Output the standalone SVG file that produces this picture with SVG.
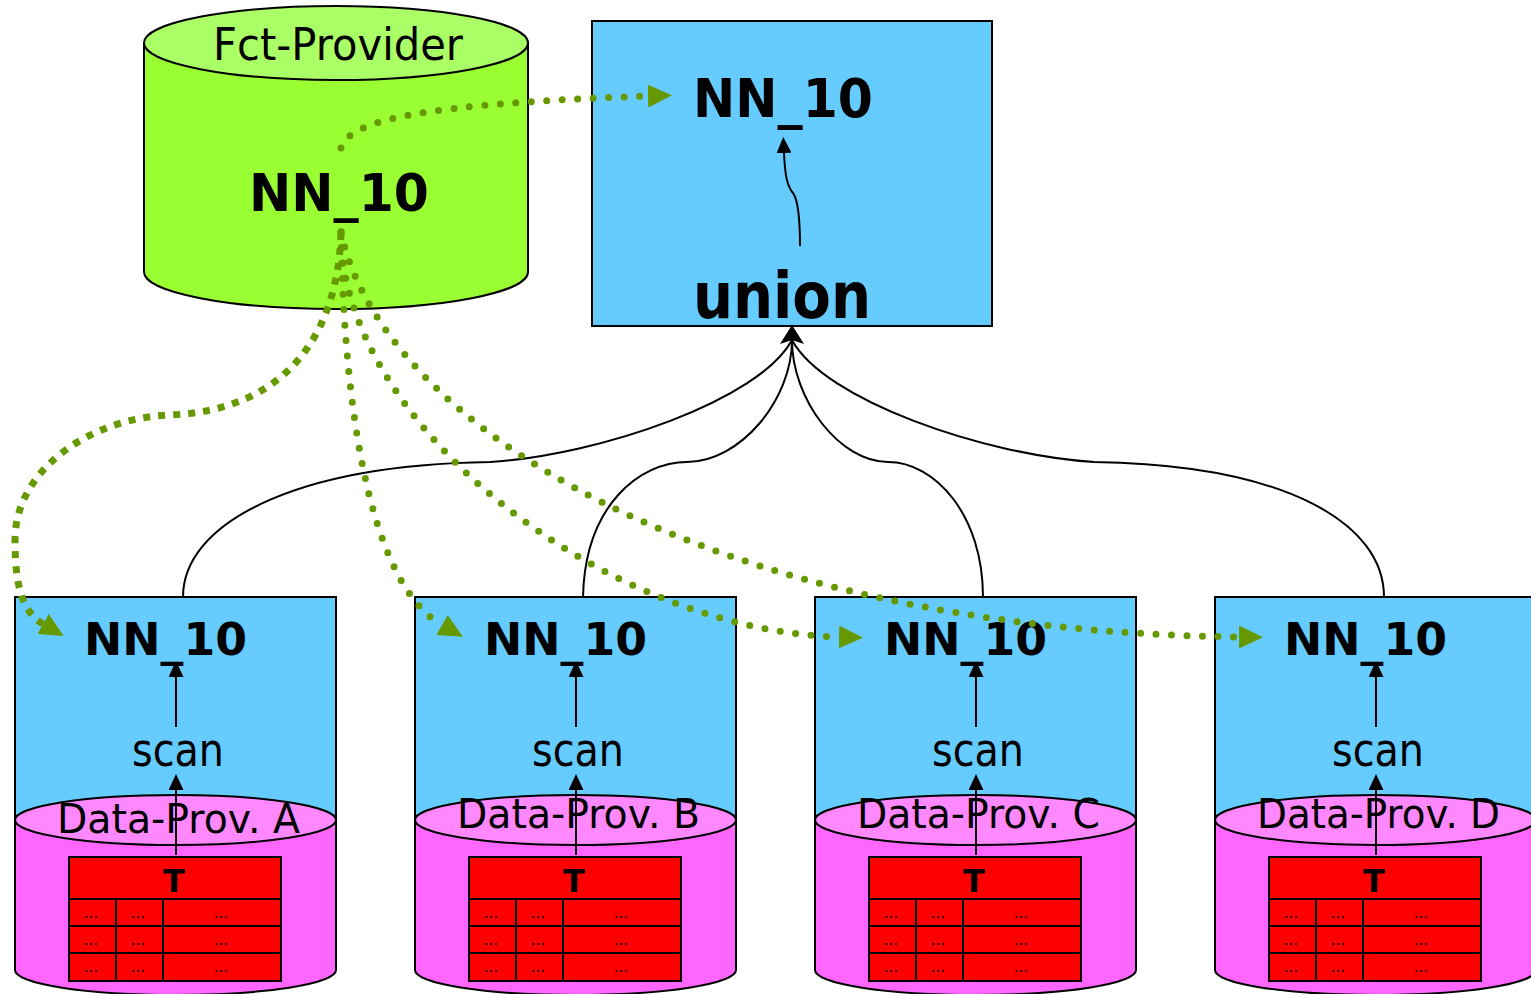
<svg xmlns="http://www.w3.org/2000/svg" width="1531" height="994" viewBox="0 0 1531 994">
<style>
.blue{fill:#66CCFF;stroke:#000;stroke-width:2}
.cyl{fill:#FF66FF;stroke:#000;stroke-width:2}
.cyltop{fill:#FF88FF;stroke:#000;stroke-width:2}
.tbl{fill:#FF0000;stroke:#000;stroke-width:2}
.ln{fill:none;stroke:#000;stroke-width:2}
.b{font-family:"DejaVu Sans","Liberation Sans",sans-serif;font-weight:bold;fill:#000}
.n{font-family:"DejaVu Sans","Liberation Sans",sans-serif;fill:#000}
.dots{font-family:"DejaVu Sans","Liberation Sans",sans-serif;font-size:15px;fill:#000;text-anchor:middle}
.gdot{fill:none;stroke:#669900;stroke-width:7;stroke-linecap:round;stroke-dasharray:0 15.5}
.gsq{fill:none;stroke:#669900;stroke-width:7;stroke-dasharray:7 8}
.blk{fill:none;stroke:#000;stroke-width:2}
</style>
<defs>
<marker id="ga" markerUnits="userSpaceOnUse" markerWidth="24" markerHeight="23" viewBox="0 0 24 23" refX="0" refY="11.5" orient="auto"><path d="M0,0 L24,11.5 L0,23 Z" fill="#669900"/></marker>
<marker id="ba" markerUnits="userSpaceOnUse" markerWidth="16" markerHeight="15" viewBox="0 0 16 15" refX="0" refY="7.5" orient="auto"><path d="M0,0 L16,7.5 L0,15 Z" fill="#000"/></marker>
<g id="dataprov">
<rect class="blue" x="0" y="597" width="321" height="260"/>
<path class="cyl" d="M0,820 L0,970 A160.5,25 0 0 0 321,970 L321,820 Z"/>
<ellipse class="cyltop" cx="160.5" cy="820" rx="160.5" ry="25"/>
<rect class="tbl" x="54" y="857" width="212" height="124"/>
<path class="ln" d="M54,899 H266 M54,926 H266 M54,953 H266 M101,899 V981 M148,899 V981"/>
<text class="b" x="159" y="892" font-size="32" text-anchor="middle">T</text>
<text class="dots" x="76" y="918">...</text><text class="dots" x="123" y="918">...</text><text class="dots" x="206" y="918">...</text>
<text class="dots" x="76" y="945">...</text><text class="dots" x="123" y="945">...</text><text class="dots" x="206" y="945">...</text>
<text class="dots" x="76" y="972">...</text><text class="dots" x="123" y="972">...</text><text class="dots" x="206" y="972">...</text>
<text class="b" x="69" y="655" font-size="45" textLength="163" lengthAdjust="spacingAndGlyphs">NN_10</text>
<text class="n" x="117" y="766" font-size="46" textLength="92" lengthAdjust="spacingAndGlyphs">scan</text>
</g>
</defs>

<g id="fct-provider">
<path d="M144,43 L144,272 A192,37 0 0 0 528,272 L528,43 Z" fill="#99FF33" stroke="#000" stroke-width="2"/>
<ellipse cx="336" cy="43" rx="192" ry="37" fill="#AAFF66" stroke="#000" stroke-width="2"/>
<text class="n" x="213" y="60" font-size="44" textLength="250" lengthAdjust="spacingAndGlyphs">Fct-Provider</text>
<text class="b" x="249" y="211" font-size="52" textLength="180" lengthAdjust="spacingAndGlyphs">NN_10</text>
</g>

<g id="union-node">
<rect class="blue" x="592" y="21" width="400" height="305"/>
<text class="b" x="693" y="117" font-size="53" textLength="180" lengthAdjust="spacingAndGlyphs">NN_10</text>
<text class="b" x="693" y="318" font-size="64" textLength="178" lengthAdjust="spacingAndGlyphs">union</text>
</g>

<g id="node-a" transform="translate(15,0)">
<use href="#dataprov"/>
<text class="n" x="42" y="833" font-size="41" textLength="243" lengthAdjust="spacingAndGlyphs">Data-Prov. A</text>
</g>
<g id="node-b" transform="translate(415,0)">
<use href="#dataprov"/>
<text class="n" x="42" y="828" font-size="41" textLength="243" lengthAdjust="spacingAndGlyphs">Data-Prov. B</text>
</g>
<g id="node-c" transform="translate(815,0)">
<use href="#dataprov"/>
<text class="n" x="42" y="828" font-size="41" textLength="243" lengthAdjust="spacingAndGlyphs">Data-Prov. C</text>
</g>
<g id="node-d" transform="translate(1215,0)">
<use href="#dataprov"/>
<text class="n" x="42" y="828" font-size="41" textLength="243" lengthAdjust="spacingAndGlyphs">Data-Prov. D</text>
</g>

<g id="connectors">
<path class="blk" d="M183,597 C183,525 290,465 490,462 C600,455 760,400 792,340"/>
<path class="blk" d="M583,597 C585,505 640,462 687,462 C740,462 792,400 792,340"/>
<path class="blk" d="M983,597 C983,515 935,462 888,462 C840,462 792,400 792,340"/>
<path class="blk" d="M1384,597 C1384,525 1290,465 1094,462 C984,455 824,400 792,340"/>
<path d="M792,325 L780,344 L792,340 L804,344 Z" fill="#000"/>
<path class="blk" d="M800,246 C800,215 798,200 793,193 C787,186 785,175 784,153" marker-end="url(#ba)"/>
<path class="blk" d="M176,727 V677" marker-end="url(#ba)"/>
<path class="blk" d="M176,855 V790" marker-end="url(#ba)"/>
<path class="blk" d="M576,727 V677" marker-end="url(#ba)"/>
<path class="blk" d="M576,855 V790" marker-end="url(#ba)"/>
<path class="blk" d="M976,727 V677" marker-end="url(#ba)"/>
<path class="blk" d="M976,855 V790" marker-end="url(#ba)"/>
<path class="blk" d="M1376,727 V677" marker-end="url(#ba)"/>
<path class="blk" d="M1376,855 V790" marker-end="url(#ba)"/>
<path class="gdot" d="M341,148 C350,120 420,104 648,96" marker-end="url(#ga)"/>
<path class="gsq" d="M341,233 C338,330 290,410 170,415 C90,418 15,470 15,540 C15,585 22,612 43,624" marker-end="url(#ga)"/>
<path class="gdot" d="M341,232 C345,450 380,590 442,625" marker-end="url(#ga)"/>
<path class="gdot" d="M341,232 C340,420 600,630 839,637" marker-end="url(#ga)"/>
<path class="gdot" d="M341,232 C380,420 700,630 1239,637" marker-end="url(#ga)"/>
</g>
</svg>
